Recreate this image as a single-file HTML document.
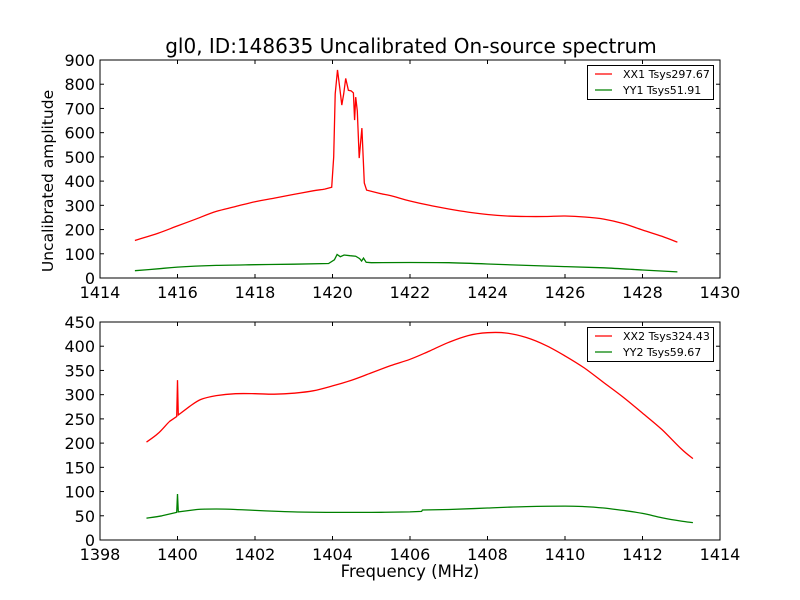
<!DOCTYPE html>
<html><head><meta charset="utf-8"><style>
body{margin:0;background:#fff;}
svg{display:block;font-family:"DejaVu Sans","Liberation Sans",sans-serif;}
</style></head><body>
<svg id="c" width="800" height="600" viewBox="0 0 800 600">
<rect width="800" height="600" fill="#fff"/>
<text x="411" y="53" font-size="20" text-anchor="middle">gl0, ID:148635 Uncalibrated On-source spectrum</text>
<text x="53" y="181" font-size="15.5" text-anchor="middle" transform="rotate(-90 53 181)">Uncalibrated amplitude</text>
<text x="410" y="577" font-size="16.5" text-anchor="middle">Frequency (MHz)</text>
</svg>
<script>
// Top panel data
const topXTicks=[1414,1416,1418,1420,1422,1424,1426,1428,1430];
const topYTicks=[0,100,200,300,400,500,600,700,800,900];
const topRedX=[1414.9,1415.5,1416,1416.5,1417,1417.5,1418,1418.5,1419,1419.5,1419.8,1419.98,1420.03,1420.07,1420.13,1420.19,1420.24,1420.29,1420.34,1420.41,1420.48,1420.54,1420.57,1420.6,1420.64,1420.69,1420.76,1420.82,1420.88,1421.2,1421.5,1422,1422.5,1423,1423.5,1424,1424.5,1425,1425.5,1426,1426.5,1427,1427.5,1428,1428.5,1428.9];
const topRedY=[155,185,215,245,275,295,315,330,345,360,367,375,500,760,859,780,714,760,824,775,773,764,652,747,690,495,619,392,363,350,340,318,300,285,272,262,256,254,254,256,252,243,225,198,172,148];
const topGreenX=[1414.9,1415.5,1416,1417,1418,1419,1419.9,1420.05,1420.12,1420.2,1420.3,1420.45,1420.6,1420.7,1420.75,1420.8,1420.87,1421,1422,1423,1424,1425,1426,1427,1428,1428.9];
const topGreenY=[30,38,45,52,55,57,60,75,97,88,95,92,90,80,70,82,65,63,64,63,58,52,47,42,33,25];
// Bottom panel data
const botXTicks=[1398,1400,1402,1404,1406,1408,1410,1412,1414];
const botYTicks=[0,50,100,150,200,250,300,350,400,450];
const botRedX=[1399.2,1399.5,1399.8,1399.98,1400,1400.02,1400.3,1400.6,1401,1401.5,1402,1402.5,1403,1403.5,1404,1404.5,1405,1405.5,1406,1406.5,1407,1407.5,1408,1408.5,1409,1409.5,1410,1410.5,1411,1411.5,1412,1412.5,1413,1413.3];
const botRedY=[202,220,245,255,330,258,275,290,298,302,302,301,303,308,318,330,345,360,373,390,408,422,428,427,418,402,380,355,325,295,262,228,188,168];
const botGreenX=[1399.2,1399.6,1399.98,1400,1400.02,1400.5,1401,1401.5,1402,1403,1404,1405,1406,1406.3,1406.32,1407,1408,1409,1410,1410.5,1411,1411.5,1412,1412.5,1413,1413.3];
const botGreenY=[45,50,57,95,58,63,64,63,61,58,57,57,58,59,62,63,66,69,70,69,66,61,55,46,39,36];
const legendTop=["XX1 Tsys297.67","YY1 Tsys51.91"];
const legendBot=["XX2 Tsys324.43","YY2 Tsys59.67"];

const NS="http://www.w3.org/2000/svg";
const svg=document.getElementById('c');
function mk(t,a,p){const e=document.createElementNS(NS,t);for(const k in a)e.setAttribute(k,a[k]);(p||svg).appendChild(e);return e;}

function pathD(xs,ys,sx,sy){
  const P=xs.map((v,i)=>[sx(v),sy(ys[i]),v]);
  let d='M'+P[0][0].toFixed(1)+','+P[0][1].toFixed(1);
  for(let i=0;i<P.length-1;i++){
    const p0=P[Math.max(0,i-1)],p1=P[i],p2=P[i+1],p3=P[Math.min(P.length-1,i+2)];
    const smooth=(p2[2]-p1[2])>0.15&&(p1[2]-p0[2]>0.15||i===0)&&(p3[2]-p2[2]>0.15||i+2>=P.length);
    if(smooth){
      const c1x=p1[0]+(p2[0]-p0[0])/6,c1y=p1[1]+(p2[1]-p0[1])/6;
      const c2x=p2[0]-(p3[0]-p1[0])/6,c2y=p2[1]-(p3[1]-p1[1])/6;
      d+=' C'+c1x.toFixed(1)+','+c1y.toFixed(1)+' '+c2x.toFixed(1)+','+c2y.toFixed(1)+' '+p2[0].toFixed(1)+','+p2[1].toFixed(1);
    } else d+=' L'+p2[0].toFixed(1)+','+p2[1].toFixed(1);
  }
  return d;
}

function panel(name,top,xmin,xmax,ymax,xt,yt,series,leg){
  const L=100,R=720,T=top,B=top+218;
  const sx=v=>L+(v-xmin)/(xmax-xmin)*(R-L);
  const sy=v=>B-v/ymax*(B-T);
  const g=mk('g',{});
  
  
  series.forEach(s=>{
    const p=mk('path',{d:pathD(s.x,s.y,sx,sy),fill:'none',stroke:s.c,'stroke-width':1.3},g);
    
    
  });
  const fr=mk('rect',{x:L,y:T,width:R-L,height:B-T,fill:'none',stroke:'#000','stroke-width':1},g);
  
  
  xt.forEach(v=>{
    const x=sx(v);
    mk('line',{x1:x,y1:B,x2:x,y2:B-4,stroke:'#000'},g);
    mk('line',{x1:x,y1:T,x2:x,y2:T+4,stroke:'#000'},g);
    const t=mk('text',{x:x,y:B+20,'font-size':16,'text-anchor':'middle'},g);t.textContent=v;
    
    
  });
  yt.forEach(v=>{
    const y=sy(v);
    mk('line',{x1:L,y1:y,x2:L+4,y2:y,stroke:'#000'},g);
    mk('line',{x1:R,y1:y,x2:R-4,y2:y,stroke:'#000'},g);
    const t=mk('text',{x:L-5,y:y+6,'font-size':16,'text-anchor':'end'},g);t.textContent=v;
    
    
  });
  const lg=mk('g',{},g);
  
  
  mk('rect',{x:587.5,y:T+5.5,width:126,height:34,fill:'#fff',stroke:'#000'},lg);
  leg.forEach((txt,i)=>{
    const y=T+14+i*16;
    mk('line',{x1:595,y1:y,x2:612,y2:y,stroke:series[i].c,'stroke-width':1.3},lg);
    const t=mk('text',{x:623,y:y+4,'font-size':11},lg);t.textContent=txt;
    
    
  });
}
panel('top',60,1414,1430,900,topXTicks,topYTicks,
  [{n:'xx1',x:topRedX,y:topRedY,c:'#ff0000'},{n:'yy1',x:topGreenX,y:topGreenY,c:'#008000'}],legendTop);
panel('bottom',322,1398,1414,450,botXTicks,botYTicks,
  [{n:'xx2',x:botRedX,y:botRedY,c:'#ff0000'},{n:'yy2',x:botGreenX,y:botGreenY,c:'#008000'}],legendBot);
</script>
</body></html>
